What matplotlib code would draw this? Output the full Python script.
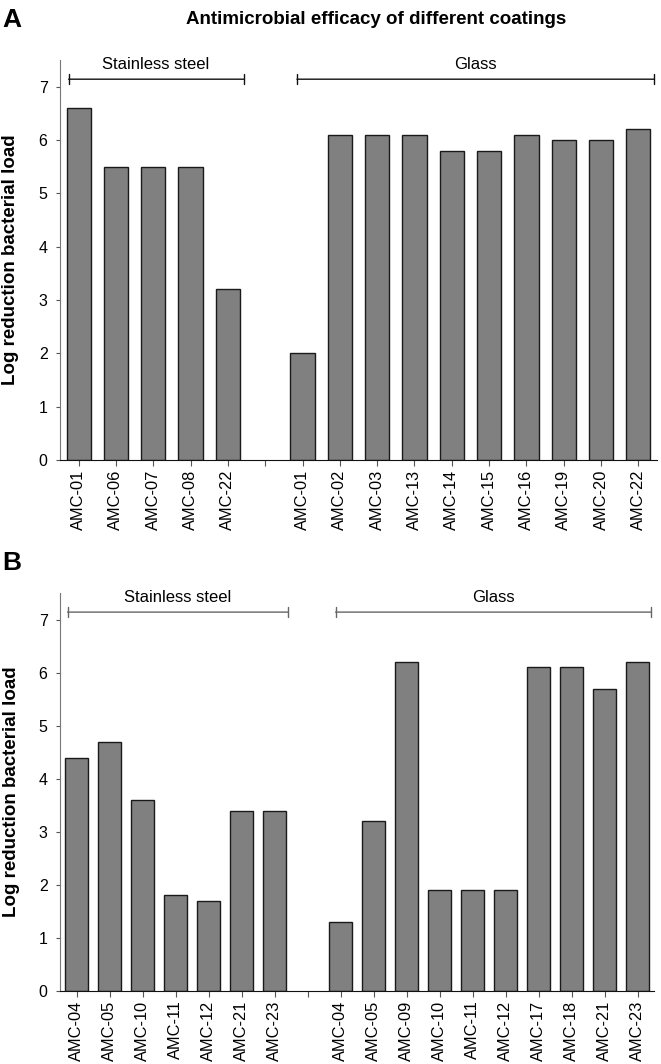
import matplotlib
matplotlib.use("Agg")
import matplotlib.pyplot as plt
import numpy as np

plt.rcParams['font.family'] = ['Liberation Sans', 'DejaVu Sans']

# Panel A data
a_steel_labels = ['AMC-01', 'AMC-06', 'AMC-07', 'AMC-08', 'AMC-22']
a_steel_values = [6.6, 5.5, 5.5, 5.5, 3.2]
a_glass_labels = ['AMC-01', 'AMC-02', 'AMC-03', 'AMC-13', 'AMC-14',
                  'AMC-15', 'AMC-16', 'AMC-19', 'AMC-20', 'AMC-22']
a_glass_values = [2.0, 6.1, 6.1, 6.1, 5.8, 5.8, 6.1, 6.0, 6.0, 6.2]

# Panel B data
b_steel_labels = ['AMC-04', 'AMC-05', 'AMC-10', 'AMC-11', 'AMC-12', 'AMC-21', 'AMC-23']
b_steel_values = [4.4, 4.7, 3.6, 1.8, 1.7, 3.4, 3.4]
b_glass_labels = ['AMC-04', 'AMC-05', 'AMC-09', 'AMC-10', 'AMC-11',
                  'AMC-12', 'AMC-17', 'AMC-18', 'AMC-21', 'AMC-23']
b_glass_values = [1.3, 3.2, 6.2, 1.9, 1.9, 1.9, 6.1, 6.1, 5.7, 6.2]

fig = plt.figure(figsize=(6.61, 10.64), dpi=100)
axA = fig.add_axes([60 / 661, 604 / 1064, 597 / 661, 400 / 1064])
axB = fig.add_axes([60 / 661, 73 / 1064, 594 / 661, 398 / 1064])


def draw_panel(ax, steel_labels, steel_vals, glass_labels, glass_vals, width, bracket_color):
    n1 = len(steel_labels)
    n2 = len(glass_labels)
    xs1 = np.arange(n1)
    xs2 = np.arange(n1 + 1, n1 + 1 + n2)
    ax.bar(xs1, steel_vals, width=width, color='#808080', edgecolor='#1a1a1a', linewidth=1)
    ax.bar(xs2, glass_vals, width=width, color='#808080', edgecolor='#1a1a1a', linewidth=1)
    # empty tick in the gap between the two groups
    ticks = np.arange(n1 + 1 + n2)
    ax.set_xticks(ticks)
    ax.set_xticklabels(steel_labels + [''] + glass_labels, rotation=90, fontsize=11.8)
    ax.set_xlim(-0.5, n1 + n2 + 0.5)
    ax.set_ylim(0, 7.5)
    ax.set_yticks(range(8))
    ax.tick_params(axis='y', labelsize=11.5, length=3, color='#555555', pad=6)
    ax.tick_params(axis='x', length=4, color='#555555', pad=3)
    ax.spines['top'].set_visible(False)
    ax.spines['right'].set_visible(False)
    ax.spines['left'].set_color('#777777')
    ax.spines['bottom'].set_color('#111111')
    ax.set_ylabel('Log reduction bacterial load', fontsize=13.5, fontweight='bold')
    ax.yaxis.set_label_coords(-0.068, 0.5)

    # group brackets
    groups = [('Stainless steel', -0.27, n1 - 0.58),
              ('Glass', n1 + 0.85, n1 + n2 + 0.42)]
    for name, x0, x1 in groups:
        ax.annotate('', xy=(x0, 7.14), xytext=(x1, 7.14), annotation_clip=False,
                    arrowprops=dict(arrowstyle='|-|,widthA=0.35,widthB=0.35',
                                    shrinkA=0, shrinkB=0, lw=1, color=bracket_color))
        ax.text((x0 + x1) / 2, 7.28, name, ha='center', va='bottom', fontsize=12,
                clip_on=False)


draw_panel(axA, a_steel_labels, a_steel_values, a_glass_labels, a_glass_values, 0.65, '#111111')
draw_panel(axB, b_steel_labels, b_steel_values, b_glass_labels, b_glass_values, 0.67, '#666666')

fig.text(2 / 661, 1 - 20 / 1064, 'A', fontsize=19, fontweight='bold', va='center')
fig.text(2 / 661, 1 - 563 / 1064, 'B', fontsize=19, fontweight='bold', va='center')
fig.text(376 / 661, 1 - 20 / 1064, 'Antimicrobial efficacy of different coatings',
         fontsize=13.5, fontweight='bold', ha='center', va='center')

fig.savefig('out.png', dpi=100)
